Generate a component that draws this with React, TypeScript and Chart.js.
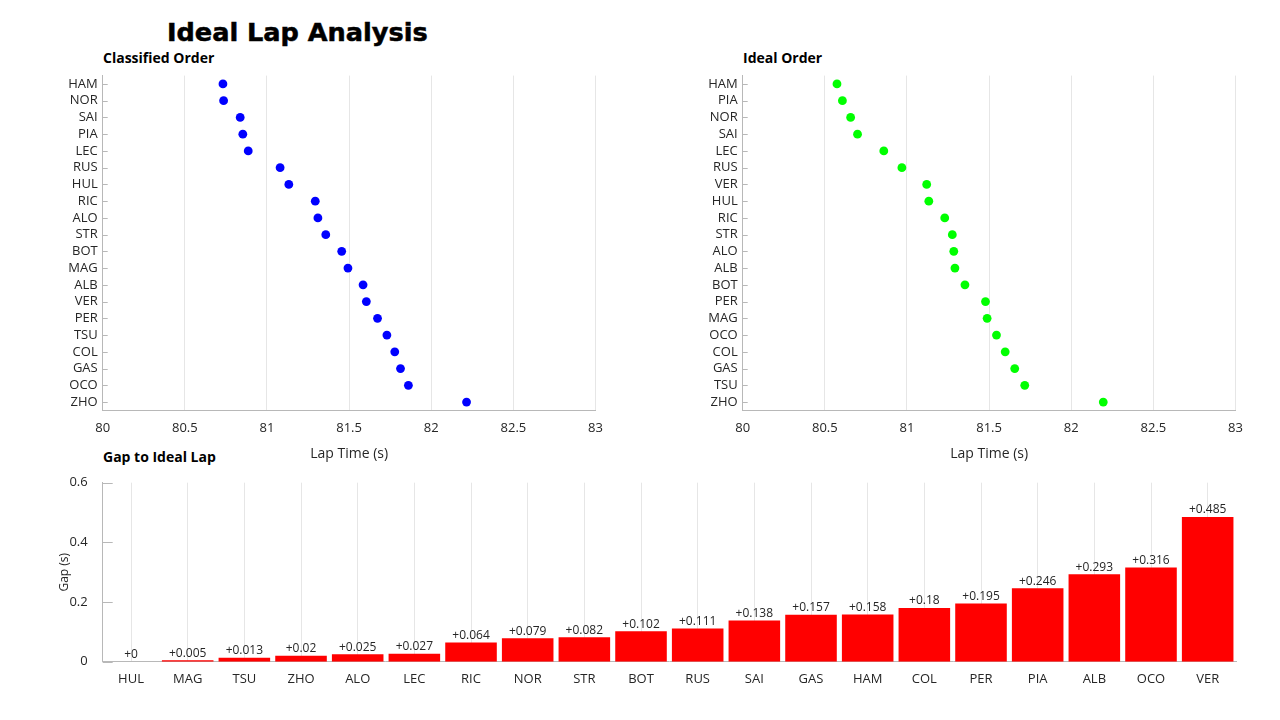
import React, { useEffect, useRef } from "react";
import { Chart, registerables } from "chart.js";

Chart.register(...registerables);

const classifiedDrivers = ["HAM", "NOR", "SAI", "PIA", "LEC", "RUS", "HUL", "RIC", "ALO", "STR", "BOT", "MAG", "ALB", "VER", "PER", "TSU", "COL", "GAS", "OCO", "ZHO"];
const classifiedTimes = [80.732, 80.736, 80.837, 80.853, 80.886, 81.08, 81.133, 81.294, 81.31, 81.358, 81.455, 81.493, 81.585, 81.605, 81.673, 81.73, 81.778, 81.813, 81.861, 82.215];

const idealDrivers = ["HAM", "PIA", "NOR", "SAI", "LEC", "RUS", "VER", "HUL", "RIC", "STR", "ALO", "ALB", "BOT", "PER", "MAG", "OCO", "COL", "GAS", "TSU", "ZHO"];
const idealTimes = [80.574, 80.607, 80.657, 80.699, 80.859, 80.969, 81.12, 81.133, 81.23, 81.276, 81.285, 81.292, 81.353, 81.478, 81.488, 81.545, 81.598, 81.656, 81.717, 82.195];

const gapDrivers = ["HUL", "MAG", "TSU", "ZHO", "ALO", "LEC", "RIC", "NOR", "STR", "BOT", "RUS", "SAI", "GAS", "HAM", "COL", "PER", "PIA", "ALB", "OCO", "VER"];
const gapValues = [0, 0.005, 0.013, 0.02, 0.025, 0.027, 0.064, 0.079, 0.082, 0.102, 0.111, 0.138, 0.157, 0.158, 0.18, 0.195, 0.246, 0.293, 0.316, 0.485];

const lapTimeTicks = [80, 80.5, 81, 81.5, 82, 82.5, 83];
const gapTicks = [0, 0.2, 0.4, 0.6];

const FONT = "'Open Sans', 'Noto Sans', sans-serif";
const TEXT = "#262626";
const AXIS = "#b8b8b8";
const GRID = "#e6e6e6";

function inwardTicks(len: number) {
  return {
    id: "inwardTicks",
    afterDraw(chart: any) {
      const y = chart.scales.y;
      const ctx = chart.ctx;
      const left = chart.chartArea.left;
      ctx.save();
      ctx.strokeStyle = AXIS;
      ctx.lineWidth = 1;
      y.ticks.forEach((_t: any, i: number) => {
        const py = Math.round(y.getPixelForTick(i)) + 0.5;
        ctx.beginPath();
        ctx.moveTo(left, py);
        ctx.lineTo(left + len, py);
        ctx.stroke();
      });
      ctx.restore();
    },
  };
}

const barLabels = {
  id: "barLabels",
  afterDatasetsDraw(chart: any) {
    const meta = chart.getDatasetMeta(0);
    const ctx = chart.ctx;
    ctx.save();
    ctx.fillStyle = TEXT;
    ctx.font = `12px ${FONT}`;
    ctx.textAlign = "center";
    ctx.textBaseline = "bottom";
    meta.data.forEach((bar: any, i: number) => {
      ctx.fillText("+" + String(gapValues[i]), bar.x, bar.y - 1);
    });
    ctx.restore();
  },
};

const plainNumber = (v: any) => String(v);

function fixYWidth(w: number) {
  return (s: any) => {
    s.width = w;
    s.paddingTop = 0;
    s.paddingBottom = 0;
  };
}

function scatterConfig(drivers: string[], times: number[], color: string): any {
  return {
    type: "scatter",
    data: {
      datasets: [
        {
          data: drivers.map((d, i) => ({ x: times[i], y: d })),
          backgroundColor: color,
          borderColor: color,
          pointRadius: 4.4,
          pointBorderWidth: 0,
        },
      ],
    },
    options: {
      responsive: false,
      animation: false,
      events: [],
      layout: { padding: { top: 9.6, right: 24.5, left: 0, bottom: 0 } },
      plugins: { legend: { display: false }, tooltip: { enabled: false } },
      scales: {
        x: {
          type: "linear",
          min: lapTimeTicks[0],
          max: lapTimeTicks[lapTimeTicks.length - 1],
          afterBuildTicks: (s: any) => {
            s.ticks = lapTimeTicks.map((v) => ({ value: v }));
          },
          grid: { color: GRID, drawTicks: false },
          border: { color: AXIS },
          ticks: { padding: 10, color: TEXT, font: { family: FONT, size: 13 }, callback: plainNumber },
          title: {
            display: true,
            text: "Lap Time (s)",
            color: TEXT,
            font: { family: FONT, size: 14 },
            padding: { top: 4, bottom: 4 },
          },
          afterFit: (s: any) => {
            s.height = 55.6;
          },
        },
        y: {
          type: "category",
          labels: drivers,
          offset: true,
          grid: { display: false, drawTicks: false },
          border: { color: AXIS },
          ticks: { padding: 5, color: TEXT, font: { family: FONT, size: 13 }, autoSkip: false },
          afterFit: fixYWidth(62.7),
        },
      },
    },
    plugins: [inwardTicks(5)],
  };
}

function barConfig(): any {
  return {
    type: "bar",
    data: {
      labels: gapDrivers,
      datasets: [
        {
          data: gapValues,
          backgroundColor: "#ff0000",
          barPercentage: 0.91,
          categoryPercentage: 1,
        },
      ],
    },
    options: {
      responsive: false,
      animation: false,
      events: [],
      layout: { padding: { top: 12.7, right: 44, left: 0, bottom: 0 } },
      plugins: { legend: { display: false }, tooltip: { enabled: false } },
      scales: {
        x: {
          grid: { color: GRID, offset: false, drawTicks: false },
          border: { color: AXIS },
          ticks: { padding: 10, color: TEXT, font: { family: FONT, size: 13 }, autoSkip: false, maxRotation: 0 },
          afterFit: (s: any) => {
            s.height = 58.3;
          },
        },
        y: {
          min: gapTicks[0],
          max: gapTicks[gapTicks.length - 1],
          afterBuildTicks: (s: any) => {
            s.ticks = gapTicks.map((v) => ({ value: v }));
          },
          grid: { display: false, drawTicks: false },
          border: { color: AXIS },
          ticks: { padding: 15, color: TEXT, font: { family: FONT, size: 13 }, callback: plainNumber },
          title: {
            display: true,
            text: "Gap (s)",
            color: TEXT,
            font: { family: FONT, size: 12 },
            padding: { top: 17.8, bottom: 0 },
          },
          afterFit: fixYWidth(62.7),
        },
      },
    },
    plugins: [inwardTicks(10), barLabels],
  };
}

function ChartCanvas(props: { make: () => any; left: number; top: number; width: number; height: number }) {
  const ref = useRef<HTMLCanvasElement>(null);
  useEffect(() => {
    const chart = new Chart(ref.current as HTMLCanvasElement, props.make());
    return () => chart.destroy();
  }, []);
  return (
    <canvas
      ref={ref}
      width={props.width}
      height={props.height}
      style={{ position: "absolute", left: props.left, top: props.top, width: props.width, height: props.height }}
    />
  );
}

const subtitleStyle: React.CSSProperties = {
  position: "absolute",
  fontFamily: FONT,
  fontWeight: 700,
  fontSize: 14,
  lineHeight: "14px",
  color: "#000",
  whiteSpace: "nowrap",
};

export default function App() {
  return (
    <div style={{ position: "fixed", left: 0, top: 0, width: 1280, height: 720, background: "#fff", overflow: "hidden" }}>
      <div
        style={{
          position: "absolute",
          left: 167,
          top: 20.5,
          fontFamily: "'DejaVu Sans', sans-serif",
          fontWeight: 700,
          fontSize: 24,
          lineHeight: "24px",
          color: "#000",
          whiteSpace: "nowrap",
          transform: "scaleX(1.065)",
          transformOrigin: "left center",
          WebkitTextStroke: "0.5px #000",
        }}
      >
        Ideal Lap Analysis
      </div>
      <div style={{ ...subtitleStyle, left: 103, top: 51 }}>Classified Order</div>
      <div style={{ ...subtitleStyle, left: 743, top: 51 }}>Ideal Order</div>
      <div style={{ ...subtitleStyle, left: 103, top: 450 }}>Gap to Ideal Lap</div>
      <ChartCanvas make={() => scatterConfig(classifiedDrivers, classifiedTimes, "#0000ff")} left={40} top={66} width={580} height={400} />
      <ChartCanvas make={() => scatterConfig(idealDrivers, idealTimes, "#00ff00")} left={680} top={66} width={580} height={400} />
      <ChartCanvas make={barConfig} left={40} top={470} width={1240} height={250} />
    </div>
  );
}
